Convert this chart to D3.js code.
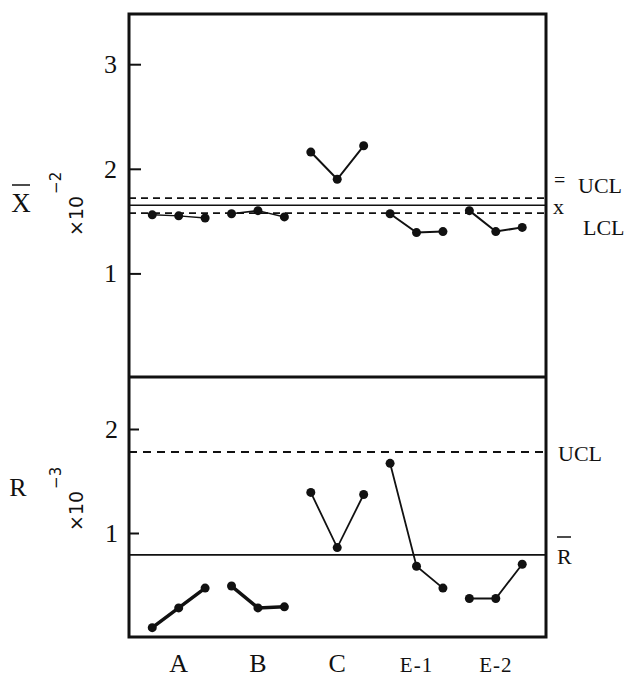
<!DOCTYPE html>
<html>
<head>
<meta charset="utf-8">
<script src="https://cdn.jsdelivr.net/npm/d3@7"></script>
<style>
  body { margin: 0; background: #fff; }
  svg { display: block; }
  text { fill: #111; font-family: "Liberation Serif", "Times New Roman", serif; }
</style>
</head>
<body>
<svg id="chart" width="632" height="680"></svg>
<script>
// groups along the x axis, three samples each
const categories = ['A', 'B', 'C', 'E-1', 'E-2']
// x-bar chart values (x10^-2)
const meanA = [1.56, 1.55, 1.53]
const meanB = [1.57, 1.60, 1.54]
const meanC = [2.16, 1.90, 2.22]
const meanE1 = [1.57, 1.39, 1.40]
const meanE2 = [1.60, 1.40, 1.44]
// range chart values (x10^-3)
const rangeA = [0.09, 0.28, 0.47]
const rangeB = [0.49, 0.28, 0.29]
const rangeC = [1.39, 0.86, 1.37]
const rangeE1 = [1.67, 0.68, 0.47]
const rangeE2 = [0.37, 0.37, 0.70]
// control limits
const meanUCL = 1.72
const meanCenter = 1.652
const meanLCL = 1.576
const rangeUCL = 1.78
const rangeCenter = 0.79
const meanTicks = [1, 2, 3]
const rangeTicks = [1, 2]

const meanGroups = [meanA, meanB, meanC, meanE1, meanE2]
const rangeGroups = [rangeA, rangeB, rangeC, rangeE1, rangeE2]

const svg = d3.select('#chart')

const left = 129, right = 546
const x = d3.scaleLinear().domain([-0.88, 14.9]).range([left, right])
const yMean = d3.scaleLinear().domain([0, 3.48]).range([378, 14])
const yRange = d3.scaleLinear().domain([0, 2.5]).range([637, 377])

// axes, ticks pointing into the frame
svg.append('g')
    .attr('transform', 'translate(' + left + ',0)')
    .call(d3.axisLeft(yMean).tickValues(meanTicks).tickSize(-12).tickPadding(12).tickFormat(d3.format('d')))
svg.append('g')
    .attr('transform', 'translate(' + left + ',0)')
    .call(d3.axisLeft(yRange).tickValues(rangeTicks).tickSize(-10).tickPadding(11).tickFormat(d3.format('d')))

svg.selectAll('.domain').remove()
svg.selectAll('.tick line').attr('stroke', '#111').attr('stroke-width', 2)
svg.selectAll('.tick text')
    .attr('fill', '#111')
    .style('font-family', '"Liberation Serif", "Times New Roman", serif')
    .style('font-size', '26px')

// control lines
const hline = (scale, v, opts) => {
    svg.append('line')
        .attr('x1', left).attr('x2', right)
        .attr('y1', scale(v)).attr('y2', scale(v))
        .attr('stroke', '#111')
        .attr('stroke-width', opts.w)
        .attr('stroke-dasharray', opts.dash || null)
}
hline(yMean, meanUCL, { w: 1.6, dash: '7,5' })
hline(yMean, meanCenter, { w: 1.5 })
hline(yMean, meanLCL, { w: 1.6, dash: '7,5' })
hline(yRange, rangeUCL, { w: 2, dash: '8,6' })
hline(yRange, rangeCenter, { w: 1.6 })

// frame
const frame = svg.append('g').attr('stroke', '#111').attr('stroke-width', 3).attr('fill', 'none')
frame.append('rect')
    .attr('x', left).attr('y', yMean.range()[1])
    .attr('width', right - left).attr('height', yRange.range()[0] - yMean.range()[1])
frame.append('line')
    .attr('x1', left).attr('x2', right)
    .attr('y1', yRange.range()[1]).attr('y2', yRange.range()[1])

// series: one polyline per group
const drawGroups = (groups, scale, widths) => {
    groups.forEach((vals, g) => {
        const pts = vals.map((v, i) => [x(g * 3 + i), scale(v)])
        svg.append('path')
            .attr('d', d3.line()(pts))
            .attr('fill', 'none')
            .attr('stroke', '#111')
            .attr('stroke-width', widths[g])
        svg.append('g').selectAll('circle')
            .data(pts)
            .enter().append('circle')
            .attr('cx', d => d[0])
            .attr('cy', d => d[1])
            .attr('r', 4.5)
            .attr('fill', '#111')
    })
}
drawGroups(meanGroups, yMean, [1.5, 1.5, 2, 2, 2])
drawGroups(rangeGroups, yRange, [3.5, 3.5, 1.8, 1.8, 1.8])

// category labels under the middle sample
svg.append('g').selectAll('text')
    .data(categories)
    .enter().append('text')
    .attr('x', (d, i) => x(i * 3 + 1))
    .attr('y', 672)
    .attr('text-anchor', 'middle')
    .style('font-size', d => d.length > 1 ? '21px' : '26px')
    .style('letter-spacing', d => d.length > 1 ? '1px' : null)
    .text(d => d)

// left titles
svg.append('text').attr('x', 21).attr('y', 212).attr('text-anchor', 'middle')
    .style('font-size', '27px').text('X')
svg.append('line').attr('x1', 12).attr('x2', 30).attr('y1', 185).attr('y2', 185)
    .attr('stroke', '#111').attr('stroke-width', 1.5)
svg.append('text').attr('x', 18).attr('y', 496).attr('text-anchor', 'middle')
    .style('font-size', '26px').text('R')

const power = (tx, ty, exp) => {
    const t = svg.append('text')
        .attr('transform', 'translate(' + tx + ',' + ty + ') rotate(-90)')
        .style('font-family', '"DejaVu Sans", sans-serif')
        .style('font-size', '19px')
    t.append('tspan').text('×10')
    t.append('tspan').attr('dy', -22).attr('dx', 2).style('font-size', '15px').text(exp)
}
power(83, 236, '−2')
power(83, 531, '−3')

// right side labels
const label = (tx, ty, s, size) => {
    svg.append('text').attr('x', tx).attr('y', ty).style('font-size', size + 'px').text(s)
}
label(554, 187, '=', 20)
label(578, 193, 'UCL', 22)
label(553, 214, 'x', 22)
label(583, 235, 'LCL', 22)
label(558, 461, 'UCL', 22)
label(557, 564, 'R', 22)
svg.append('line').attr('x1', 557).attr('x2', 571).attr('y1', 537).attr('y2', 537)
    .attr('stroke', '#111').attr('stroke-width', 1.5)
</script>
</body>
</html>
